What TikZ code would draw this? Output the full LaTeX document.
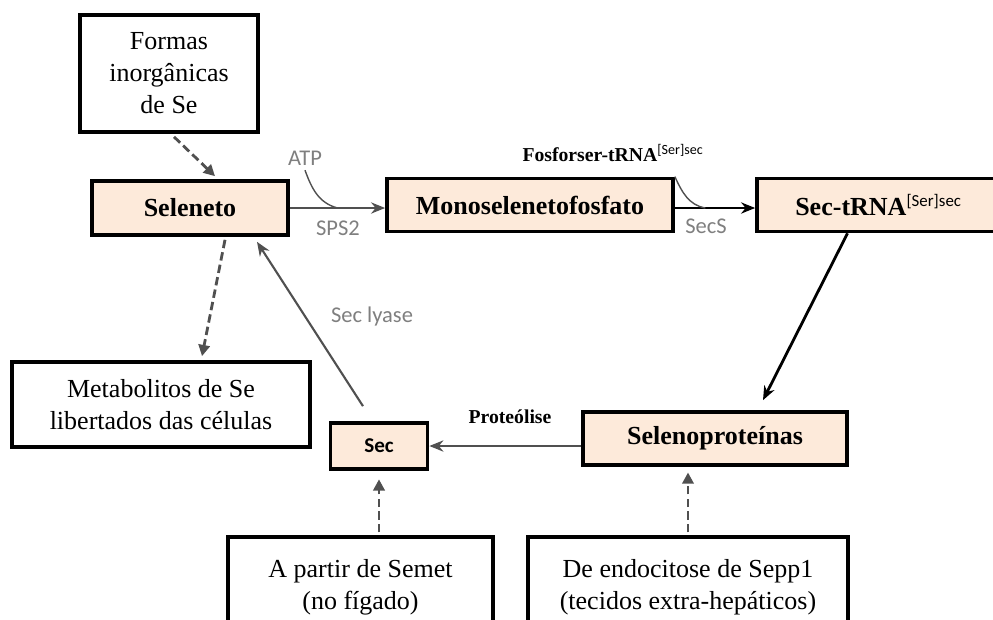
\documentclass[tikz,border=0pt]{standalone}
\usepackage{fontspec}
\setmainfont{Liberation Serif}
\newfontfamily\labelfont{Carlito}
\usetikzlibrary{positioning,calc,arrows.meta}
\definecolor{peach}{HTML}{FDEADA}
\definecolor{enzgray}{HTML}{7F7F7F}
\definecolor{arrgray}{HTML}{505050}

\begin{document}
\begin{tikzpicture}[x=0.025cm,y=-0.025cm,
    caixa/.style={draw,line width=2.6pt,align=center,inner sep=0pt,font=\fontsize{18.5}{22.8}\selectfont},
    etapa/.style={caixa,fill=peach,font=\fontsize{18.5}{22.8}\selectfont\bfseries},
    enzima/.style={text=enzgray,font=\labelfont\fontsize{16}{18}\selectfont},
    tracejada/.style={arrgray,line width=2pt,dash pattern=on 6pt off 3pt,-{Triangle[length=8pt,width=8pt]}},
    seta/.style={line width=1.5pt,-{Stealth[length=10pt,width=8pt]}}]
    \useasboundingbox (0,0) rectangle (993,619);
    \clip (0,0) rectangle (993,619);
    % caixas
    \node[caixa,minimum width=4.45cm,minimum height=2.925cm] (formas) at (169,73.5) {Formas\\inorgânicas\\de Se};
    \node[etapa,minimum width=4.9cm,minimum height=1.35cm] (seleneto) at (190,208) {Seleneto};
    \node[etapa,minimum width=7.15cm,minimum height=1.325cm] (mono) at (530,205) {Monoselenetofosfato};
    \node[etapa,minimum width=6.075cm,minimum height=1.325cm] (sectrna) at (878.5,205) {Sec-tRNA\textsuperscript{\labelfont\mdseries\fontsize{12}{12}\selectfont[Ser]sec}};
    \node[caixa,minimum width=7.45cm,minimum height=2.125cm] (metab) at (161,404.5) {Metabolitos de Se\\libertados das células};
    \node[etapa,minimum width=2.425cm,minimum height=1.15cm,font=\labelfont\fontsize{15}{18}\selectfont\bfseries] (sec) at (379,446) {Sec};
    \node[etapa,minimum width=6.6cm,minimum height=1.325cm] (selenop) at (715,438.5) {Selenoproteínas};
    \node[caixa,minimum width=6.625cm,minimum height=2.5cm] (semet) at (360.5,587) {A partir de Semet\\(no fígado)};
    \node[caixa,minimum width=8cm,minimum height=2.5cm] (sepp) at (688,587) {De endocitose de Sepp1\\(tecidos extra-hepáticos)};
    % rotulos
    \node[enzima] (atp) at (305,158) {ATP};
    \node[enzima] (sps) at (338,228) {SPS2};
    \node[font=\fontsize{14}{16}\selectfont\bfseries] (fosfo) at (613,153) {Fosforser-tRNA\textsuperscript{\labelfont\mdseries\fontsize{10}{10}\selectfont[Ser]sec}};
    \node[enzima] (secs) at (706,226) {SecS};
    \node[font=\fontsize{14}{16}\selectfont\bfseries] (proteo) at (510,417) {Proteólise};
    \node[enzima] (lyase) at (372,316) {Sec lyase};
    % setas
    \draw[tracejada] ($(formas.south)+(5,3)$) -- ($(seleneto.north)+(25,-3)$);
    \draw[tracejada] ($(seleneto.south)+(35,3)$) -- ($(metab.north)+(41,-4)$);
    \draw[seta,arrgray] (seleneto.east) -- coordinate[pos=0.5] (c1) (mono.west |- seleneto.east);
    \draw[arrgray,line width=1pt] (atp.south) to[out=-70,in=165] (c1);
    \draw[seta] (mono.east |- seleneto.east) -- coordinate[pos=0.38] (c2) (sectrna.west |- seleneto.east);
    \draw[arrgray,line width=1pt] (mono.north east) to[out=-65,in=170] (c2);
    \draw[seta,line width=2pt] ($(sectrna.south)+(-31,0)$) -- ($(selenop.north)+(48,-10)$);
    \draw[seta,arrgray] (selenop.west |- sec.east) -- (sec.east);
    \draw[seta,arrgray] ($(sec.north)+(-16,-15)$) -- ($(seleneto.south)+(67,5)$);
    \draw[tracejada,shorten <=2pt,shorten >=6pt] (semet.north -| sec.south) -- (sec.south);
    \draw[tracejada,shorten <=2pt,shorten >=4pt] (sepp.north) -- (sepp.north |- selenop.south);
\end{tikzpicture}
\end{document}
